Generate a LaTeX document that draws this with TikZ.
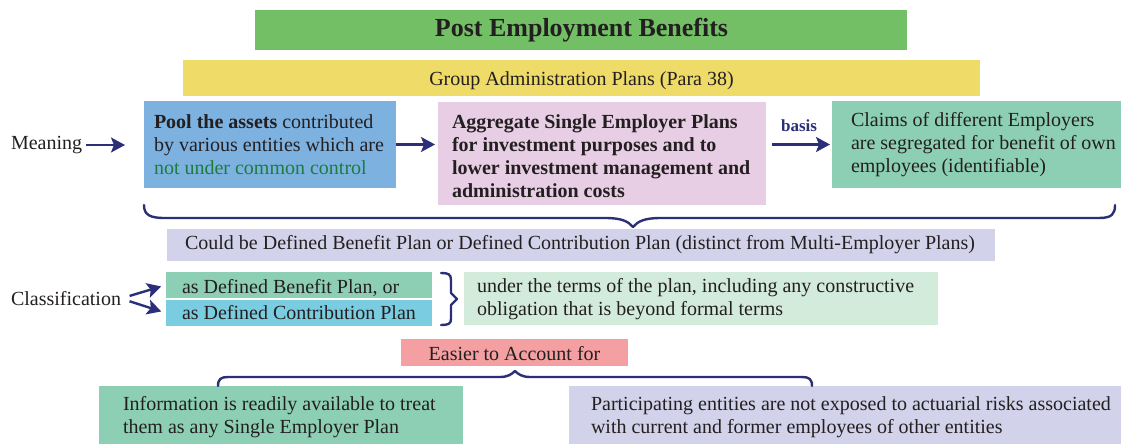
\documentclass[tikz,border=0pt]{standalone}
\usepackage{fontspec}
\setmainfont{Liberation Serif}
\usetikzlibrary{arrows.meta}
\definecolor{ink}{HTML}{231F20}
\definecolor{navy}{HTML}{2B2F77}
\definecolor{titlegreen}{HTML}{72BF65}
\definecolor{yel}{HTML}{EFDB68}
\definecolor{bluebox}{HTML}{7DB1E0}
\definecolor{pinkbox}{HTML}{E8CEE5}
\definecolor{tealbox}{HTML}{8DCFB5}
\definecolor{lavbox}{HTML}{D2D2EA}
\definecolor{cyanbox}{HTML}{7ACCE0}
\definecolor{lgreen}{HTML}{D3EBDA}
\definecolor{salmon}{HTML}{F4A0A2}
\definecolor{darkgreen}{HTML}{1E7B40}
\begin{document}
\begin{tikzpicture}[x=1pt,y=-1pt,
  box/.style={draw=none, inner sep=0pt, outer sep=0pt, anchor=north west},
  txt/.style={inner sep=0pt, outer sep=0pt, align=left, text=ink, font=\fontsize{20}{23}\selectfont},
  arr/.style={draw=navy, line width=2.4pt, -{Stealth[length=14pt,width=15pt,inset=3pt]}},
  brc/.style={draw=navy, line width=2.4pt, line cap=round, line join=round}]
\useasboundingbox (0,0) rectangle (1121,444);

% boxes
\node[box, fill=titlegreen, minimum width=652pt, minimum height=40pt] (title) at (255,10) {};
\node[box, fill=yel, minimum width=797pt, minimum height=36pt] (gap) at (183,60) {};
\node[box, fill=bluebox, minimum width=252pt, minimum height=87pt] (blue) at (144,101) {};
\node[box, fill=pinkbox, minimum width=328pt, minimum height=103pt] (pink) at (438,102) {};
\node[box, fill=tealbox, minimum width=289pt, minimum height=87pt] (teal) at (832,101) {};
\node[box, fill=lavbox, minimum width=828pt, minimum height=32pt] (lav) at (167,229) {};
\node[box, fill=tealbox, minimum width=266pt, minimum height=26pt] (dbp) at (166,272) {};
\node[box, fill=cyanbox, minimum width=266pt, minimum height=26pt] (dcp) at (166,300) {};
\node[box, fill=lgreen, minimum width=474pt, minimum height=53pt] (terms) at (464,272) {};
\node[box, fill=salmon, minimum width=227pt, minimum height=27pt] (easier) at (401,339) {};
\node[box, fill=tealbox, minimum width=364pt, minimum height=58pt] (info) at (99,386) {};
\node[box, fill=lavbox, minimum width=552pt, minimum height=58pt] (part) at (569,386) {};

% texts
\node[txt, anchor=base, font=\fontsize{26}{30}\selectfont\bfseries] (titleT) at (581.5,37) {Post Employment Benefits};
\node[txt, anchor=base] (gapT) at (581.5,85) {Group Administration Plans (Para 38)};
\node[txt, anchor=west] (meaning) at (11,145) {Meaning};
\node[txt, anchor=west] (blueT) at (154,144.5) {\textbf{Pool the assets} contributed\\by various entities which are\\\textcolor{darkgreen}{not under common control}};
\node[txt, anchor=west, font=\fontsize{20}{23}\selectfont\bfseries] (pinkT) at (452,156) {Aggregate Single Employer Plans\\for investment purposes and to\\lower investment management and\\administration costs};
\node[txt, anchor=west] (tealT) at (851,144.5) {Claims of different Employers\\are segregated for benefit of own\\employees (identifiable)};
\node[txt, anchor=base] (lavT) at (580,249) {Could be Defined Benefit Plan or Defined Contribution Plan (distinct from Multi-Employer Plans)};
\node[txt, anchor=west] (class) at (11,298.5) {Classification};
\node[txt, anchor=base west] (dbpT) at (182,293) {as Defined Benefit Plan, or};
\node[txt, anchor=base west] (dcpT) at (182,319) {as Defined Contribution Plan};
\node[txt, anchor=west] (termsT) at (477,299) {under the terms of the plan, including any constructive\\obligation that is beyond formal terms};
\node[txt, anchor=base] (easierT) at (514.5,360) {Easier to Account for};
\node[txt, anchor=west] (infoT) at (123,417) {Information is readily available to treat\\them as any Single Employer Plan};
\node[txt, anchor=west] (partT) at (591,417) {Participating entities are not exposed to actuarial risks associated\\with current and former employees of other entities};

% connectors
\draw[arr, shorten <=4pt, shorten >=19pt] (meaning.east) -- (meaning.east -| blue.west);
\draw[arr, shorten >=3pt] (blue.east) -- (blue.east -| pink.west);
\draw[arr, shorten <=6pt, shorten >=2pt] (pink.east |- teal.west) -- node[midway, above=12pt, inner sep=0pt, text=navy, font=\fontsize{17}{20}\selectfont\bfseries] (basis) {basis} (teal.west);
\draw[arr, shorten <=9pt, shorten >=5pt] (class.east) -- (dbp.west);
\draw[arr, shorten <=9pt, shorten >=5pt] (class.east) -- (dcp.west);

% braces
\draw[brc] (144,205) .. controls (144,215) and (150,218) .. (165,218) -- (605,218)
  .. controls (621,218) and (628,221) .. (633,227)
  .. controls (638,221) and (645,218) .. (661,218) -- (1099,218)
  .. controls (1112,218) and (1115,214) .. (1115,205);
\draw[brc] (441,273) .. controls (448,273) and (451,274) .. (451,280) -- (451,293) -- (457,299) -- (451,305) -- (451,319)
  .. controls (451,324) and (448,325) .. (441,325);
\draw[brc] (218,386) .. controls (218,379) and (221,377) .. (228,377) -- (500,377)
  .. controls (508,377) and (512,374) .. (515,371)
  .. controls (518,374) and (522,377) .. (530,377) -- (802,377)
  .. controls (809,377) and (812,379) .. (812,386);
\end{tikzpicture}
\end{document}
